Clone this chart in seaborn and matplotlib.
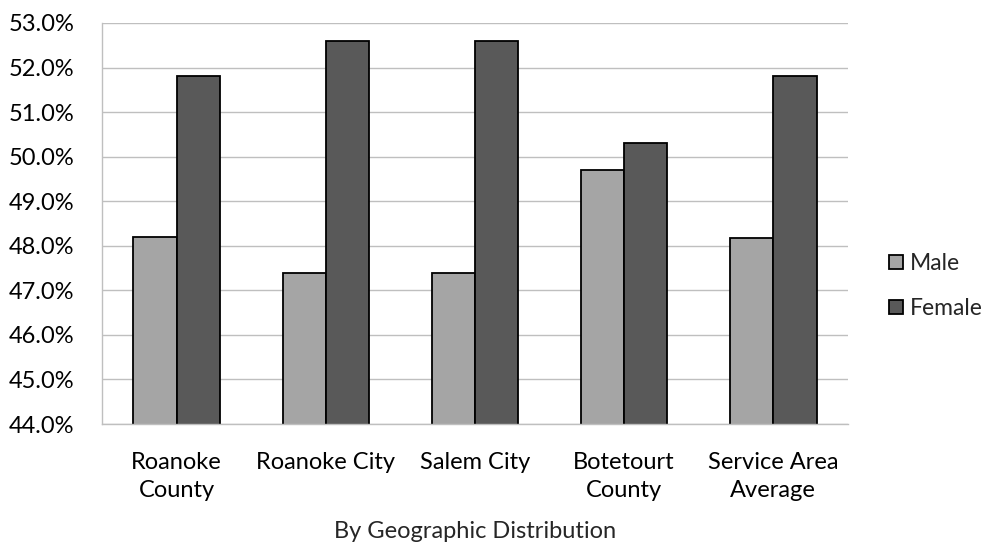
import seaborn as sns
import matplotlib.pyplot as plt
import pandas as pd
from matplotlib.patches import Patch
from matplotlib.ticker import PercentFormatter

# data
regions = ["Roanoke\nCounty", "Roanoke City", "Salem City",
           "Botetourt\nCounty", "Service Area\nAverage"]
male = [48.2, 47.4, 47.4, 49.7, 48.18]
female = [51.8, 52.6, 52.6, 50.3, 51.82]
groups = ["Male", "Female"]
colors = {"Male": "#A5A5A5", "Female": "#595959"}

df = pd.DataFrame({
    "Region": regions * 2,
    "Sex": ["Male"] * len(regions) + ["Female"] * len(regions),
    "Pct": male + female,
})

sns.set_style("white")
plt.rcParams["font.family"] = ["Lato", "DejaVu Sans"]

fig = plt.figure(figsize=(9.95, 5.46), dpi=100)
ax = fig.add_axes([0.1025, 0.2234, 0.7497, 0.7345])

sns.barplot(data=df, x="Region", y="Pct", hue="Sex", hue_order=groups,
            palette=colors, width=0.58, edgecolor="black", linewidth=1.3,
            saturation=1, ax=ax, legend=False)

ax.set_ylim(44, 53)
ax.set_yticks(range(44, 54))
ax.yaxis.set_major_formatter(PercentFormatter(decimals=1))
ax.grid(axis="y", color="#BFBFBF", linewidth=1)
ax.set_axisbelow(True)
for s in ["top", "right"]:
    ax.spines[s].set_visible(False)
for s in ["left", "bottom"]:
    ax.spines[s].set_color("#BFBFBF")
    ax.spines[s].set_linewidth(1)

ax.tick_params(axis="x", length=0, pad=20, labelsize=17, colors="black")
ax.tick_params(axis="y", length=0, pad=20, labelsize=17, colors="black")
for lbl in ax.get_xticklabels():
    lbl.set_linespacing(1.45)
ax.set_ylabel("")
ax.set_xlabel("By Geographic Distribution", fontsize=17, labelpad=14)

handles = [Patch(facecolor=colors[g], edgecolor="black", linewidth=1.3, label=g)
           for g in groups]
fig.legend(handles=handles, loc="center left", bbox_to_anchor=(0.873, 0.476),
           frameon=False, fontsize=16.5, handlelength=0.6, handleheight=0.6,
           handletextpad=0.3, labelspacing=1.05)

plt.savefig("out.png", dpi=100)
plt.close()
